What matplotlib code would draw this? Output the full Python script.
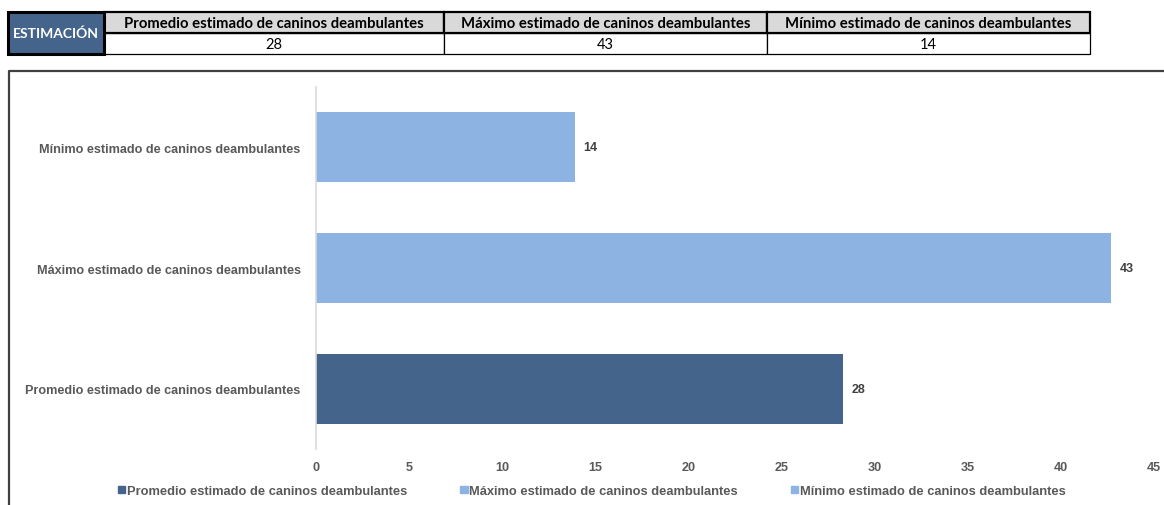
import matplotlib

matplotlib.use("Agg")
import matplotlib.pyplot as plt
from matplotlib.patches import Rectangle
from matplotlib.lines import Line2D

# data
categories = [
    "Promedio estimado de caninos deambulantes",
    "Máximo estimado de caninos deambulantes",
    "Mínimo estimado de caninos deambulantes",
]
values = [28.3, 42.7, 13.9]
table_values = [28, 43, 14]
bar_colors = ["#44648c", "#8db3e2", "#8db3e2"]

W, H = 1164, 506
fig = plt.figure(figsize=(W / 100, H / 100), dpi=100)

# pixel overlay for the table and frame
ov = fig.add_axes([0, 0, 1, 1])
ov.set_xlim(0, W)
ov.set_ylim(H, 0)
ov.axis("off")

# outer chart frame (top and left edges visible)
ov.add_line(Line2D([9, 9, 1163], [506, 72, 72], color="#404040", lw=1.6))

# estimation table
ov.add_patch(Rectangle((8, 13), 96, 42, facecolor="#44648c", edgecolor="black", lw=2.2, zorder=3))
ov.text(56, 34, "ESTIMACIÓN", color="white", fontsize=10, fontweight="bold",
        family="Lato", ha="center", va="center", zorder=4)
col_x = [104, 444, 767, 1090]
for i, (name, val) in enumerate(zip(categories, table_values)):
    x0, x1 = col_x[i], col_x[i + 1]
    ov.add_patch(Rectangle((x0, 13), x1 - x0, 21, facecolor="#d9d9d9", edgecolor="black", lw=1.6, zorder=2))
    ov.add_patch(Rectangle((x0, 34), x1 - x0, 21, facecolor="white", edgecolor="black", lw=0.9, zorder=1))
    ov.text((x0 + x1) / 2, 23.5, name, fontsize=10.7, fontweight="bold", family="Lato",
            ha="center", va="center", color="black", zorder=4)
    ov.text((x0 + x1) / 2, 44.5, str(val), fontsize=10.5, family="Lato",
            ha="center", va="center", color="black", zorder=4)

# bar chart
ax = fig.add_axes([316 / W, (H - 450) / H, 838 / W, 362 / H])
y = list(range(len(categories)))
bars = ax.barh(y, values, height=0.58, color=bar_colors, label=categories)
for b, v in zip(bars, values):
    ax.text(b.get_width() + 0.45, b.get_y() + b.get_height() / 2, f"{v:.0f}",
            va="center", ha="left", fontsize=9, fontweight="bold",
            family="Liberation Sans", color="#404040")

ax.set_xlim(0, 45)
ax.set_ylim(-0.5, 2.5)
ax.set_xticks(range(0, 46, 5))
ax.set_yticks(y)
ax.set_yticklabels(categories)
for lab in ax.get_xticklabels() + ax.get_yticklabels():
    lab.set_family("Liberation Sans")
    lab.set_fontweight("bold")
    lab.set_fontsize(9.1)
    lab.set_color("#595959")
ax.tick_params(length=0)
ax.tick_params(axis="x", pad=9)
ax.tick_params(axis="y", pad=11)
for s in ["top", "right", "bottom"]:
    ax.spines[s].set_visible(False)
ax.spines["left"].set_color("#d9d9d9")
ax.spines["left"].set_linewidth(1.2)

handles = [Rectangle((0, 0), 1, 1, color=c) for c in bar_colors]
leg = fig.legend(handles, categories, loc="center", bbox_to_anchor=(592 / W, 1 - 492 / H),
                 ncol=3, frameon=False, handlelength=0.55, handleheight=0.55,
                 handletextpad=0.15, columnspacing=4.1,
                 prop={"family": "Liberation Sans", "weight": "bold", "size": 9.3})
for t in leg.get_texts():
    t.set_color("#595959")

fig.savefig("out.png", dpi=100)
